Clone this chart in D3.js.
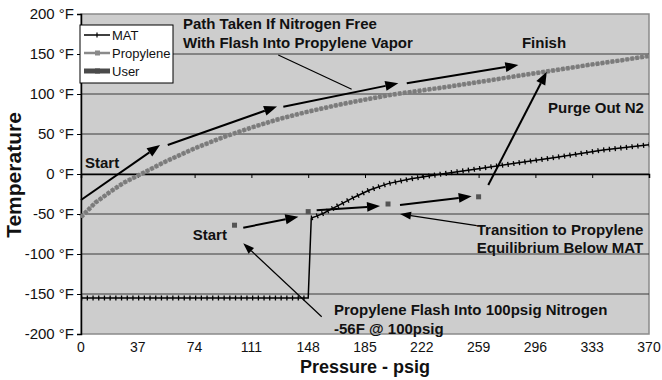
<!DOCTYPE html>
<html>
<head>
<meta charset="utf-8">
<script src="https://cdn.jsdelivr.net/npm/d3@7"></script>
<style>
body { margin: 0; background: #fff; }
text { font-family: Arial, "Liberation Sans", sans-serif; fill: #111; }
</style>
</head>
<body>
<div id="chart"></div>
<script>
// chart values
var xTicks = [0, 37, 74, 111, 148, 185, 222, 259, 296, 333, 370];
var yTicks = [-200, -150, -100, -50, 0, 50, 100, 150, 200];

var propPsig = [0, 9.25, 18.5, 27.75, 37, 55.5, 74, 92.5, 111, 129.5, 148, 166.5, 185, 203.5, 222, 240.5, 259, 277.5, 296, 314.5, 333, 351.5, 370];
var propTemp = [-54, -36, -23, -11, -2, 16, 32, 46, 58, 69, 78, 86, 93, 99.5, 104.5, 109.5, 115, 120.5, 126, 131.5, 137, 142, 147.5];

var matPsig = [0, 37, 74, 111, 148, 150, 153, 158, 163, 170, 178, 188, 200, 215, 235, 260, 285, 310, 340, 370];
var matTemp = [-155, -155, -155, -155, -155, -55, -53, -49, -44, -37, -29, -20, -12, -6, 0, 7, 14, 21, 30, 36.5];

var userPsig = [100, 148, 200, 259];
var userTemp = [-64, -47, -37.5, -28.5];

// annotation arrows [psig1, temp1, psig2, temp2]
var boldArrows = [
  [0, -32.5, 51.5, 36.25],
  [56.5, 36.25, 127.7, 84.4],
  [131.8, 84.1, 206.7, 113.4],
  [212.2, 113.4, 284.9, 136.25],
  [105.7, -67.1, 141.6, -53.4],
  [153.5, -45.4, 194.8, -40],
  [207.8, -38.75, 254.5, -27.9],
  [265.3, -13.75, 303.4, 127.9]
];
var thinArrows = [
  [257.8, -64.6, 207.8, -50],
  [156.8, -178.4, 105.7, -86.6]
];
var noteLines = [[128.5, 148.75, 176.3, 105.9]];

var notes = [
  {t: "Path Taken If Nitrogen Free", p: 66.4, v: 180.9, a: "start"},
  {t: "With Flash Into Propylene Vapor", p: 66.4, v: 157.1, a: "start"},
  {t: "Finish", p: 301.6, v: 157.1, a: "middle"},
  {t: "Purge Out N2", p: 366.7, v: 76.25, a: "end"},
  {t: "Start", p: 2.6, v: 7.5, a: "start"},
  {t: "Start", p: 72.8, v: -82.5, a: "start"},
  {t: "Transition to Propylene", p: 257.8, v: -76.25, a: "start"},
  {t: "Equilibrium Below MAT", p: 257.8, v: -99.1, a: "start"},
  {t: "Propylene Flash Into 100psig Nitrogen", p: 164.8, v: -176.25, a: "start"},
  {t: "-56F @ 100psig", p: 164.8, v: -199.5, a: "start"}
];

var svgWidth = 662;
var svgHeight = 380;
var margin = {top: 14, right: 13, bottom: 46, left: 81};
var width = svgWidth - margin.left - margin.right;
var height = svgHeight - margin.top - margin.bottom;

var svg = d3.select("#chart")
  .append("svg")
  .attr("width", svgWidth)
  .attr("height", svgHeight);

var x = d3.scaleLinear().domain([0, 370]).range([margin.left, margin.left + width]);
var y = d3.scaleLinear().domain([-200, 200]).range([margin.top + height, margin.top]);

// plot area
svg.append("rect")
  .attr("x", x(0)).attr("y", y(200))
  .attr("width", width).attr("height", height)
  .attr("fill", "#cdcdcd")
  .attr("stroke", "#8a8a8a")
  .attr("stroke-width", 1.5);

// gridlines
svg.append("g")
  .selectAll("line")
  .data(yTicks.filter(d => d > -200 && d < 200))
  .enter()
  .append("line")
  .attr("x1", x(0)).attr("x2", x(370))
  .attr("y1", d => y(d)).attr("y2", d => y(d))
  .attr("stroke", "#3a3a3a")
  .attr("stroke-width", 1);

// y axis
var leftAxis = d3.axisLeft(y)
  .tickValues(yTicks)
  .tickSize(4)
  .tickPadding(3)
  .tickFormat(d => d + " °F");

var yAxis = svg.append("g")
  .attr("transform", `translate(${x(0)}, 0)`)
  .call(leftAxis);
yAxis.select(".domain").attr("stroke", "#000").attr("stroke-width", 1.5);
yAxis.selectAll("text").attr("font-size", "15px").attr("fill", "#111");

// x axis crosses at 0 °F, labels sit low
var bottomAxis = d3.axisBottom(x)
  .tickValues(xTicks)
  .tickSize(4)
  .tickFormat("");
var xAxis = svg.append("g")
  .attr("transform", `translate(0, ${y(0)})`)
  .call(bottomAxis);
xAxis.select(".domain").attr("stroke", "#000").attr("stroke-width", 1.5);

svg.append("g")
  .selectAll("text")
  .data(xTicks)
  .enter()
  .append("text")
  .attr("x", d => x(d))
  .attr("y", y(-200) + 18)
  .attr("text-anchor", "middle")
  .attr("font-size", "14px")
  .text(d => d);

// axis titles
svg.append("text")
  .attr("x", 365)
  .attr("y", 373)
  .attr("text-anchor", "middle")
  .attr("font-size", "18px")
  .attr("font-weight", "bold")
  .text("Pressure - psig");

svg.append("text")
  .attr("transform", "rotate(-90)")
  .attr("x", -175)
  .attr("y", 21)
  .attr("text-anchor", "middle")
  .attr("font-size", "21px")
  .attr("font-weight", "bold")
  .text("Temperature");

var line = d3.line().x(d => x(d[0])).y(d => y(d[1]));

// propylene curve
var propData = propPsig.map((p, i) => [p, propTemp[i]]);
svg.append("path")
  .attr("d", line(propData))
  .attr("fill", "none")
  .attr("stroke", "#9a9a9a")
  .attr("stroke-width", 2.5);
svg.append("path")
  .attr("d", line(propData))
  .attr("fill", "none")
  .attr("stroke", "#7b7b7b")
  .attr("stroke-width", 4.5)
  .attr("stroke-dasharray", "3.5,1.5");

// MAT curve
var matData = matPsig.map((p, i) => [p, matTemp[i]]);
svg.append("path")
  .attr("d", line(matData))
  .attr("fill", "none")
  .attr("stroke", "#000")
  .attr("stroke-width", 1.5);
// "+" marker texture, skipping the vertical jump
var lastFlat = matTemp.lastIndexOf(-155);
[matData.slice(0, lastFlat + 1), matData.slice(lastFlat + 1)].forEach(function(seg) {
  svg.append("path")
    .attr("d", line(seg))
    .attr("fill", "none")
    .attr("stroke", "#000")
    .attr("stroke-width", 5)
    .attr("stroke-dasharray", "1.3,4.4");
});

// user points
svg.append("g")
  .selectAll("rect")
  .data(userPsig.map((p, i) => [p, userTemp[i]]))
  .enter()
  .append("rect")
  .attr("x", d => x(d[0]) - 2.5)
  .attr("y", d => y(d[1]) - 2.5)
  .attr("width", 5)
  .attr("height", 5)
  .attr("fill", "#555");

// arrows
function drawArrow(a, sw, hl, hw) {
  var x1 = x(a[0]), y1 = y(a[1]), x2 = x(a[2]), y2 = y(a[3]);
  var ang = Math.atan2(y2 - y1, x2 - x1);
  var bx = x2 - hl * Math.cos(ang), by = y2 - hl * Math.sin(ang);
  svg.append("line")
    .attr("x1", x1).attr("y1", y1)
    .attr("x2", bx).attr("y2", by)
    .attr("stroke", "#000")
    .attr("stroke-width", sw);
  if (hl > 0) {
    var px = Math.sin(ang) * hw / 2, py = -Math.cos(ang) * hw / 2;
    svg.append("polygon")
      .attr("points", [[x2, y2], [bx + px, by + py], [bx - px, by - py]].join(" "))
      .attr("fill", "#000");
  }
}
boldArrows.forEach(a => drawArrow(a, 2, 13, 10));
thinArrows.forEach(a => drawArrow(a, 1.2, 11, 8));
noteLines.forEach(a => drawArrow(a, 1.2, 0, 0));

// text notes
svg.append("g")
  .selectAll("text")
  .data(notes)
  .enter()
  .append("text")
  .attr("x", d => x(d.p))
  .attr("y", d => y(d.v))
  .attr("text-anchor", d => d.a)
  .attr("font-size", "15px")
  .attr("font-weight", "bold")
  .text(d => d.t);

// legend
var legend = svg.append("g");
legend.append("rect")
  .attr("x", 80).attr("y", 25)
  .attr("width", 93).attr("height", 58)
  .attr("fill", "#fff")
  .attr("stroke", "#000")
  .attr("stroke-width", 1);

var legendItems = [
  {name: "MAT", color: "#000", w: 1.5, mark: "plus"},
  {name: "Propylene", color: "#8a8a8a", w: 2.5, mark: "square"},
  {name: "User", color: "#4a4a4a", w: 5, mark: "square"}
];
legendItems.forEach(function(d, i) {
  var ly = 35 + i * 18;
  legend.append("line")
    .attr("x1", 84).attr("x2", 110)
    .attr("y1", ly).attr("y2", ly)
    .attr("stroke", d.color)
    .attr("stroke-width", d.w);
  if (d.mark === "plus") {
    legend.append("line")
      .attr("x1", 97).attr("x2", 97)
      .attr("y1", ly - 2.5).attr("y2", ly + 2.5)
      .attr("stroke", "#000").attr("stroke-width", 1.2);
  } else {
    legend.append("rect")
      .attr("x", 95).attr("y", ly - 2.5)
      .attr("width", 5).attr("height", 5)
      .attr("fill", d.color);
  }
  legend.append("text")
    .attr("x", 112)
    .attr("y", ly + 4.5)
    .attr("font-size", "13px")
    .text(d.name);
});
</script>
</body>
</html>
